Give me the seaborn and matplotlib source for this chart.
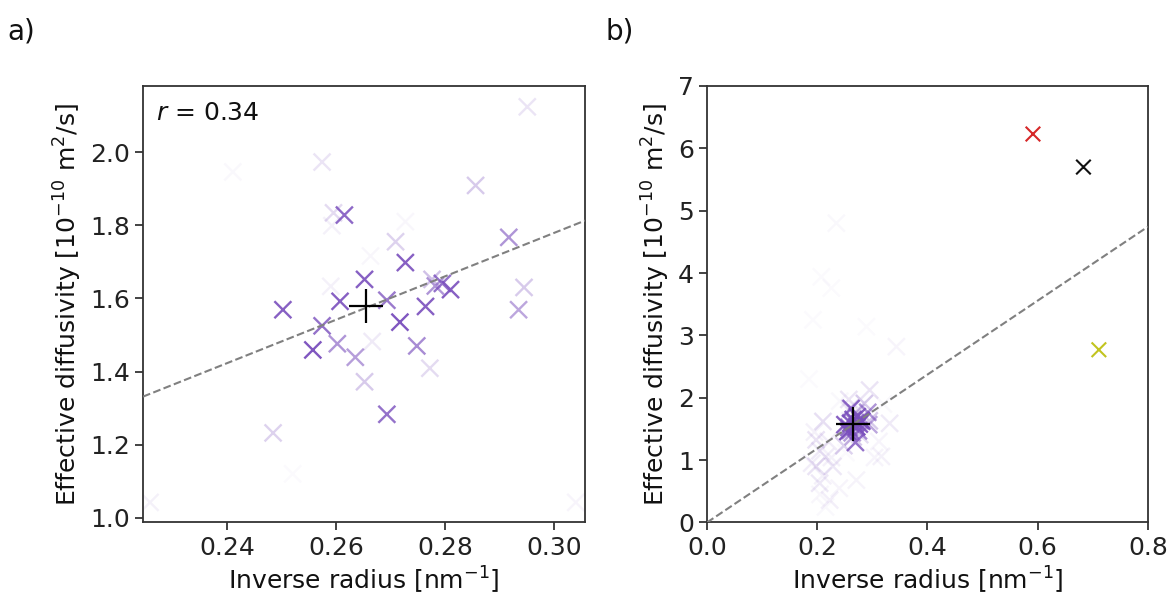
import numpy as np
import pandas as pd
import matplotlib
matplotlib.use("Agg")
import matplotlib.pyplot as plt
from matplotlib.colors import LinearSegmentedColormap
import seaborn as sns

# ---------------- data ----------------
# main set: inverse radius, effective diffusivity, marker opacity (weight)
inv_r = [0.2951, 0.2574, 0.2856, 0.2595, 0.2615, 0.2592, 0.2709, 0.2917, 0.2727,
         0.2776, 0.2782, 0.2795, 0.2810, 0.2652, 0.2945, 0.2607, 0.2693, 0.2935,
         0.2502, 0.2764, 0.2717, 0.2574, 0.2557, 0.2602, 0.2635, 0.2666, 0.2748,
         0.2772, 0.2652, 0.2693, 0.2484, 0.2258, 0.3040, 0.2663, 0.2410, 0.2520,
         0.2590, 0.2727,
         # points outside the zoomed window of panel a
         0.2104, 0.1980, 0.1980, 0.2044, 0.2226, 0.2286, 0.2710, 0.3164, 0.3314,
         0.3436, 0.1923, 0.2892, 0.2347, 0.2075, 0.2256, 0.2050, 0.2150, 0.2100,
         0.2400, 0.1950, 0.2200, 0.3120, 0.3200, 0.1850, 0.1900, 0.2050, 0.2150]
diffusivity = [2.124, 1.973, 1.909, 1.834, 1.828, 1.799, 1.755, 1.767, 1.698,
               1.652, 1.634, 1.641, 1.624, 1.652, 1.630, 1.592, 1.595, 1.569,
               1.569, 1.578, 1.535, 1.525, 1.459, 1.476, 1.439, 1.482, 1.470,
               1.409, 1.372, 1.283, 1.232, 1.042, 1.042, 1.716, 1.946, 1.120,
               1.633, 1.810,
               1.620, 1.325, 0.900, 0.630, 0.360, 0.900, 0.680, 1.060, 1.590,
               2.820, 3.250, 3.140, 4.800, 3.940, 3.760, 1.150, 1.050, 0.750,
               0.550, 1.450, 1.300, 1.300, 1.900, 2.300, 0.950, 0.450, 0.250]
weight = [0.15, 0.15, 0.30, 0.20, 0.85, 0.08, 0.25, 0.60, 0.90,
          0.35, 0.60, 0.80, 0.90, 0.90, 0.30, 0.90, 0.75, 0.50,
          0.90, 0.90, 0.95, 0.80, 0.95, 0.60, 0.55, 0.12, 0.65,
          0.20, 0.30, 0.80, 0.25, 0.08, 0.06, 0.05, 0.04, 0.03,
          0.08, 0.05,
          0.18, 0.16, 0.16, 0.13, 0.09, 0.13, 0.07, 0.08, 0.12,
          0.06, 0.03, 0.03, 0.04, 0.03, 0.03, 0.12, 0.10, 0.08,
          0.06, 0.08, 0.10, 0.06, 0.04, 0.03, 0.10, 0.05, 0.04]

# outliers shown in panel b
outlier_inv_r = [0.5914, 0.6830, 0.7110]
outlier_diff = [6.23, 5.70, 2.77]
outlier_name = ["red", "black", "olive"]
outlier_colors = ["#d62728", "#111111", "#c2c41f"]

mean_inv_r = [0.2655]
mean_diff = [1.580]
fit_slope = 5.93
r_value = 0.34

a_xticks = [0.24, 0.26, 0.28, 0.30]
a_yticks = [1.0, 1.2, 1.4, 1.6, 1.8, 2.0]
b_xticks = [0.0, 0.2, 0.4, 0.6, 0.8]
b_yticks = [0, 1, 2, 3, 4, 5, 6, 7]

# ---------------- style ----------------
sns.set_theme(style="ticks")
plt.rcParams["font.family"] = ["DejaVu Sans"]
plt.rcParams.update({
    "font.size": 18,
    "axes.labelsize": 18,
    "xtick.labelsize": 18,
    "ytick.labelsize": 18,
    "axes.edgecolor": "#333333",
    "axes.linewidth": 1.3,
    "xtick.major.size": 6,
    "ytick.major.size": 6,
    "xtick.major.width": 1.2,
    "ytick.major.width": 1.2,
    "xtick.color": "#222222",
    "ytick.color": "#222222",
    "text.color": "#111111",
    "axes.labelcolor": "#111111",
})

purple = (0.48, 0.31, 0.74)
cmap = LinearSegmentedColormap.from_list(
    "alpha_purple", [(*purple, 0.0), (*purple, 1.0)])

df = pd.DataFrame({"inv_r": inv_r, "D": diffusivity, "w": weight})
df_out = pd.DataFrame({"inv_r": outlier_inv_r, "D": outlier_diff,
                       "name": outlier_name})

fig = plt.figure(figsize=(11.74, 6.06), dpi=100)
ax_a = fig.add_axes([0.1218, 0.1378, 0.3765, 0.7203])
ax_b = fig.add_axes([0.6022, 0.1378, 0.3756, 0.7203])

ylabel = "Effective diffusivity [$10^{-10}$ m$^2$/s]"
xlabel = "Inverse radius [nm$^{-1}$]"

for ax in (ax_a, ax_b):
    sns.scatterplot(data=df, x="inv_r", y="D", hue="w", palette=cmap,
                    hue_norm=(0, 1), marker="x", s=150, linewidth=1.7,
                    legend=False, ax=ax, zorder=2)
    ax.plot(mean_inv_r, mean_diff, marker="+", markersize=24,
            markeredgewidth=1.6, color="black", linestyle="none", zorder=4)
    ax.set_xlabel(xlabel)
    ax.set_ylabel(ylabel)

# panel a
ax_a.set_xlim(0.2245, 0.3057)
ax_a.set_ylim(0.987, 2.181)
xs = np.array(ax_a.get_xlim())
ax_a.plot(xs, fit_slope * xs, linestyle="--", color="#808080", lw=1.5, zorder=3)
ax_a.set_xticks(a_xticks)
ax_a.set_xticklabels([f"{t:.2f}" for t in a_xticks])
ax_a.set_yticks(a_yticks)
ax_a.set_yticklabels([f"{t:.1f}" for t in a_yticks])
ax_a.text(0.03, 0.965, f"$r$ = {r_value:.2f}", transform=ax_a.transAxes,
          ha="left", va="top", fontsize=18)

# panel b
sns.scatterplot(data=df_out, x="inv_r", y="D", hue="name",
                palette=dict(zip(outlier_name, outlier_colors)),
                marker="x", s=110, linewidth=1.5, legend=False, ax=ax_b, zorder=3)
ax_b.set_xlim(0.0, 0.8)
ax_b.set_ylim(0, 7)
xs = np.array(ax_b.get_xlim())
ax_b.plot(xs, fit_slope * xs, linestyle="--", color="#808080", lw=1.5, zorder=3)
ax_b.set_xticks(b_xticks)
ax_b.set_xticklabels([f"{t:.1f}" for t in b_xticks])
ax_b.set_yticks(b_yticks)

fig.text(0.006, 0.948, "a)", fontsize=20, ha="left", va="center")
fig.text(0.516, 0.948, "b)", fontsize=20, ha="left", va="center")

fig.savefig("out.png", dpi=100)
